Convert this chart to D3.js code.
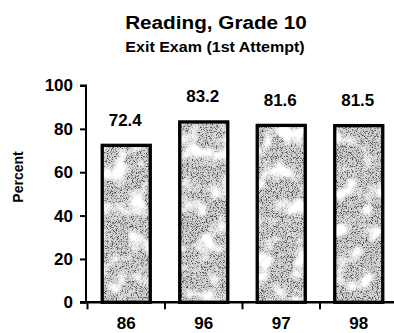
<!DOCTYPE html>
<html>
<head>
<meta charset="utf-8">
<script src="https://cdn.jsdelivr.net/npm/d3@7"></script>
<style>
  html, body { margin: 0; padding: 0; background: #fff; }
  svg { display: block; }
  text { font-family: "Liberation Sans", Arial, sans-serif; font-weight: bold; fill: #000; }
</style>
</head>
<body>
<svg id="chart" width="394" height="333"></svg>
<script>
// Exit exam reading results, grade 10
const years = ["86", "96", "97", "98"];
const percents = [72.4, 83.2, 81.6, 81.5];
const yTicks = [0, 20, 40, 60, 80, 100];

const svg = d3.select("#chart");
const FONT = "'Liberation Sans', Arial, sans-serif";

const x = d3.scaleBand()
  .domain(years)
  .range([87.5, 397.5])
  .paddingInner(0.38)
  .paddingOuter(0.19);

const y = d3.scaleLinear().domain([0, 100]).range([302.3, 85.5]);

// stippled grey fill for the bars: fine dark speckle plus soft light blotches
const defs = svg.append("defs");
const f = defs.append("filter").attr("id", "stipple")
  .attr("x", 0).attr("y", 0).attr("width", 1).attr("height", 1)
  .attr("color-interpolation-filters", "sRGB");
f.append("feTurbulence").attr("type", "fractalNoise")
  .attr("baseFrequency", 1.2).attr("numOctaves", 1).attr("seed", 4).attr("result", "fine");
f.append("feColorMatrix").attr("in", "fine").attr("type", "matrix")
  .attr("values", "0 0 0 0 0.3  0 0 0 0 0.3  0 0 0 0 0.3  6 0 0 0 -3.05")
  .attr("result", "dots");
f.append("feTurbulence").attr("type", "fractalNoise")
  .attr("baseFrequency", 0.055).attr("numOctaves", 2).attr("seed", 11).attr("result", "coarse");
f.append("feColorMatrix").attr("in", "coarse").attr("type", "matrix")
  .attr("values", "0 0 0 0 1  0 0 0 0 1  0 0 0 0 1  4 0 0 0 -1.9")
  .attr("result", "blobs");
f.append("feMerge").attr("result", "tex").call(m => {
  m.append("feMergeNode").attr("in", "SourceGraphic");
  m.append("feMergeNode").attr("in", "dots");
  m.append("feMergeNode").attr("in", "blobs");
});
f.append("feComposite").attr("in", "tex").attr("in2", "SourceAlpha").attr("operator", "in");

// titles
svg.append("text").attr("transform", "translate(216,28.5) scale(1.09,1)")
  .attr("text-anchor", "middle").style("font-size", "19px")
  .text("Reading, Grade 10");
svg.append("text").attr("transform", "translate(215,52.3) scale(1.07,1)")
  .attr("text-anchor", "middle").style("font-size", "15px")
  .text("Exit Exam (1st Attempt)");

// y axis title
svg.append("text")
  .attr("transform", "translate(22.5,177) rotate(-90)")
  .attr("text-anchor", "middle").style("font-size", "14px")
  .text("Percent");

// bars
const bars = svg.append("g");
bars.selectAll("rect.fill")
  .data(years)
  .join("rect")
  .attr("class", "fill")
  .attr("x", (d) => x(d))
  .attr("y", (d, i) => y(percents[i]))
  .attr("width", x.bandwidth())
  .attr("height", (d, i) => y(0) - y(percents[i]))
  .attr("fill", "#d2d2d2")
  .attr("filter", "url(#stipple)");
bars.selectAll("rect.edge")
  .data(years)
  .join("rect")
  .attr("class", "edge")
  .attr("x", (d) => x(d))
  .attr("y", (d, i) => y(percents[i]))
  .attr("width", x.bandwidth())
  .attr("height", (d, i) => y(0) - y(percents[i]))
  .attr("fill", "none")
  .attr("stroke", "#000")
  .attr("stroke-width", 3.3);

// value labels
svg.append("g").selectAll("text")
  .data(years)
  .join("text")
  .attr("x", (d) => x(d) + x.bandwidth() / 2 - 1)
  .attr("y", (d, i) => y(percents[i]) - 19.5)
  .attr("text-anchor", "middle")
  .style("font-size", "17px")
  .text((d, i) => percents[i].toFixed(1));

// y axis
const yAxis = svg.append("g")
  .attr("transform", "translate(86,0)")
  .call(d3.axisLeft(y).tickValues(yTicks).tickSize(6).tickPadding(7));
yAxis.select(".domain").attr("stroke", "#000").attr("stroke-width", 2)
  .attr("d", `M-6,${y(100)}H0V${y(0)}`);
yAxis.selectAll(".tick line").attr("stroke", "#000").attr("stroke-width", 2);
yAxis.selectAll(".tick text")
  .style("font-size", "17px").style("font-family", FONT)
  .style("font-weight", "bold").attr("fill", "#000");

// x axis: boundary ticks between categories, labels under each bar
const gap = (x.step() - x.bandwidth()) / 2;
const bounds = years.map((d) => x(d) - gap);
svg.append("line")
  .attr("x1", 80).attr("x2", 394)
  .attr("y1", y(0)).attr("y2", y(0))
  .attr("stroke", "#000").attr("stroke-width", 2.5);
svg.append("g").selectAll("line")
  .data(bounds)
  .join("line")
  .attr("x1", (d) => d).attr("x2", (d) => d)
  .attr("y1", y(0)).attr("y2", y(0) + 7)
  .attr("stroke", "#000").attr("stroke-width", 2);
const xAxis = svg.append("g")
  .attr("transform", `translate(0,${y(0)})`)
  .call(d3.axisBottom(x).tickSize(0).tickPadding(15));
xAxis.select(".domain").remove();
xAxis.selectAll(".tick text")
  .style("font-size", "17px").style("font-family", FONT)
  .style("font-weight", "bold").attr("fill", "#000");
</script>
</body>
</html>
